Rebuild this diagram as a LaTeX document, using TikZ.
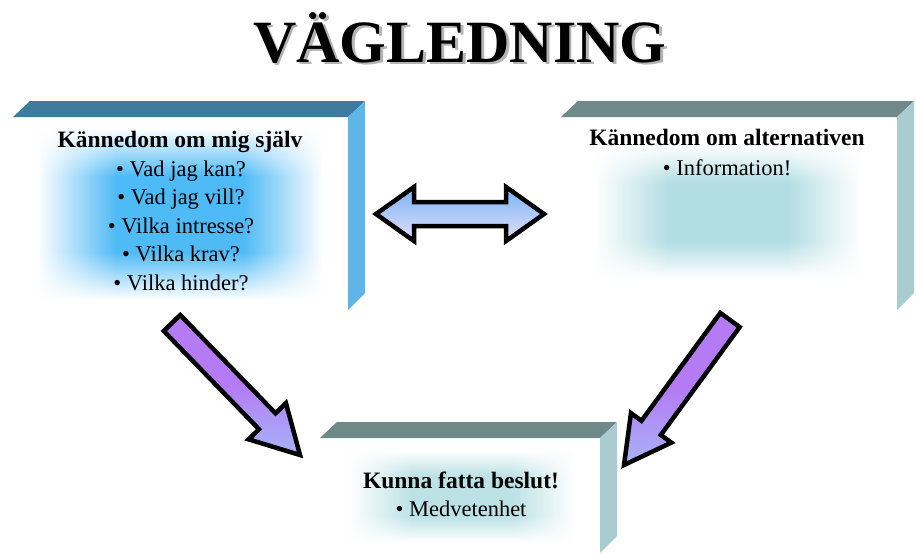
\documentclass[tikz,border=0pt]{standalone}
\usepackage{fontspec}
\setmainfont{Liberation Serif}
\usetikzlibrary{calc,fadings}
\definecolor{topblue}{HTML}{3E7B9C}
\definecolor{sideblue}{HTML}{5DB5E8}
\definecolor{topgray}{HTML}{6F8888}
\definecolor{sidegray}{HTML}{A9CCD0}
\definecolor{glowblue}{HTML}{4EBAF6}
\definecolor{glowcyan}{HTML}{B2DDE3}
\definecolor{glowcyanb}{HTML}{BCE2E6}
\definecolor{arrowpurple}{HTML}{B47BF4}
\definecolor{arrowlight}{HTML}{A8B4F8}
\definecolor{dblue}{HTML}{78B2F5}
\definecolor{dlav}{HTML}{E4E0FA}
\definecolor{shadowgray}{HTML}{B4B4B4}
\pgfdeclarehorizontalshading{hplateau}{100bp}{color(0bp)=(black); color(25bp)=(black); color(39bp)=(white); color(61bp)=(white); color(75bp)=(black); color(100bp)=(black)}
\tikzfading[name=hglow, shading=hplateau]
\pgfdeclareverticalshading{vglowL}{100bp}{color(0bp)=(white); color(25bp)=(white); color(39bp)=(glowblue); color(61bp)=(glowblue); color(75bp)=(white); color(100bp)=(white)}
\pgfdeclareverticalshading{vglowR}{100bp}{color(0bp)=(white); color(25bp)=(white); color(39bp)=(glowcyan); color(61bp)=(glowcyan); color(75bp)=(white); color(100bp)=(white)}
\pgfdeclareverticalshading{vglowB}{100bp}{color(0bp)=(white); color(25bp)=(white); color(39bp)=(glowcyanb); color(61bp)=(glowcyanb); color(75bp)=(white); color(100bp)=(white)}
\newcommand\slabbox[6]{%
  \fill[#5] (#1,#2) -- (#3,#2) -- ($(#3,#2)+(17,-16)$) -- ($(#1,#2)+(17,-16)$) -- cycle;
  \fill[#6] (#3,#2) -- ($(#3,#2)+(17,-16)$) -- ($(#3,#4)+(17,-17)$) -- (#3,#4) -- cycle;
}
\tikzset{
  hd/.style={anchor=base, inner sep=0pt, font=\bfseries\fontsize{23.5}{26}\selectfont},
  bl/.style={anchor=base, inner sep=0pt, font=\fontsize{22.5}{26}\selectfont},
  blockarrow/.style={draw=black, line width=4.5pt, line join=miter},
  diagarrow/.style={blockarrow, top color=arrowpurple, bottom color=arrowlight, middle color=arrowpurple},
  dblarrow/.style={blockarrow, top color=dblue, bottom color=dlav},
  glow/.style={shading=#1, path fading=hglow}
}
\begin{document}
\begin{tikzpicture}[x=1pt,y=-1pt]
\useasboundingbox[fill=white] (0,0) rectangle (916,554);
% title
\node[anchor=base, inner sep=0pt, text=shadowgray, font=\bfseries\fontsize{60}{64}\selectfont] (titleshadow) at (462.5,64.5) {VÄGLEDNING};
\node[anchor=base, inner sep=0pt, font=\bfseries\fontsize{60}{64}\selectfont] (title) at (460,62) {VÄGLEDNING};
% boxes
\slabbox{13}{117}{348}{310}{topblue}{sideblue}
\slabbox{561}{117}{897}{310}{topgray}{sidegray}
\slabbox{320}{438}{600}{553}{topgray}{sidegray}
% glows
\shade[glow=vglowL] (38,128) rectangle (322,300);
\shade[glow=vglowR] (596,146) rectangle (860,278);
\shade[glow=vglowB] (350,450) rectangle (574,542);
% left texts
\node[hd] (l0) at (180,147) {Kännedom om mig själv};
\node[bl] (l1) at (181,176) {• Vad jag kan?};
\node[bl] (l2) at (181,204.5) {• Vad jag vill?};
\node[bl] (l3) at (181,233) {• Vilka intresse?};
\node[bl] (l4) at (181,261.5) {• Vilka krav?};
\node[bl] (l5) at (181,290) {• Vilka hinder?};
% right texts
\node[hd] (r0) at (727,145) {Kännedom om alternativen};
\node[bl] (r1) at (727,175) {• Information!};
% bottom texts
\node[hd] (b0) at (461,488) {Kunna fatta beslut!};
\node[bl] (b1) at (461,516) {• Medvetenhet};
% double arrow
\coordinate (dl) at (376,214);
\coordinate (dr) at (544,214);
\draw[dblarrow] (dl) -- ($(dl)+(38,-27)$) -- ($(dl)+(38,-12)$) -- ($(dr)+(-38,-12)$) -- ($(dr)+(-38,-27)$) -- (dr)
  -- ($(dr)+(-38,27)$) -- ($(dr)+(-38,12)$) -- ($(dl)+(38,12)$) -- ($(dl)+(38,27)$) -- cycle;
% diagonal arrow left
\coordinate (a1) at (172,323);
\coordinate (b1t) at (300,455);
\coordinate (h1) at ($(b1t)!47pt!(a1)$);
\draw[diagarrow] ($(a1)!11.5pt!90:(b1t)$) -- ($(h1)!11.5pt!90:(b1t)$) -- ($(h1)!26pt!90:(b1t)$) -- (b1t)
  -- ($(h1)!26pt!-90:(b1t)$) -- ($(h1)!11.5pt!-90:(b1t)$) -- ($(a1)!11.5pt!-90:(b1t)$) -- cycle;
% diagonal arrow right
\coordinate (a2) at (730,320);
\coordinate (b2t) at (624,465);
\coordinate (h2) at ($(b2t)!46pt!(a2)$);
\draw[diagarrow] ($(a2)!12pt!90:(b2t)$) -- ($(h2)!12pt!90:(b2t)$) -- ($(h2)!25pt!90:(b2t)$) -- (b2t)
  -- ($(h2)!25pt!-90:(b2t)$) -- ($(h2)!12pt!-90:(b2t)$) -- ($(a2)!12pt!-90:(b2t)$) -- cycle;
\end{tikzpicture}
\end{document}
